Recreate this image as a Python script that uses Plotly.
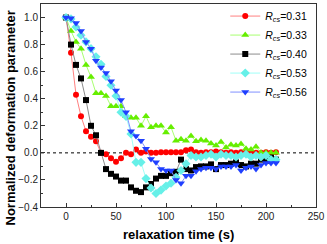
import plotly.graph_objects as go

time_s = list(range(0, 215, 5))

r031 = [1.0, 0.74, 0.43, 0.27, 0.16, 0.12, 0.085, 0.0, -0.01, -0.04, -0.065, -0.04, 0.0, -0.01,
        0.025, 0.0, 0.01, 0.0, 0.0, 0.005, 0.005, 0.005, 0.005, 0.005, 0.02, 0.025, 0.005, 0.0,
        0.005, 0.005, 0.01, 0.005, 0.0, 0.005, 0.0, 0.005, 0.0, 0.005, 0.0, 0.0, 0.005, 0.0, 0.005]
r033 = [1.0, 0.90, 0.82, 0.77, 0.65, 0.56, 0.44, 0.44, 0.42, 0.345, 0.345, 0.345, 0.27, 0.26,
        0.26, 0.20, 0.27, 0.19, 0.20, 0.20, 0.15, 0.19, 0.09, 0.10, 0.09, 0.125, 0.085, 0.095,
        0.09, 0.07, 0.055, 0.08, 0.04, 0.06, 0.055, 0.065, 0.03, 0.025, 0.045, 0.0, 0.0, 0.0, 0.0]
r040 = [1.0, 0.80, 0.65, 0.55, 0.39, 0.20, 0.13, 0.0, -0.12, -0.155, -0.175, -0.205, -0.205,
        -0.255, -0.28, -0.29, -0.255, -0.23, -0.19, -0.17, -0.17, -0.15, -0.14, -0.05, -0.12,
        -0.13, -0.105, -0.10, -0.10, -0.085, -0.12, -0.09, -0.09, -0.08, -0.07, -0.09, -0.10,
        -0.08, -0.08, -0.05, -0.06, -0.035, -0.05]
r053 = [1.0, 0.99, 0.93, 0.87, 0.82, 0.77, 0.71, 0.655, 0.565, 0.50, 0.42, 0.30, 0.27, 0.14,
        -0.07, -0.07, -0.19, -0.26, -0.30, -0.275, -0.245, -0.225, -0.18, -0.13, -0.08, -0.02,
        -0.03, -0.03, -0.02, -0.01, -0.03, -0.01, -0.02, -0.02, -0.03, -0.02, -0.01, -0.03,
        -0.02, -0.03, -0.02, -0.05, -0.05]
r056 = [1.0, 0.995, 0.96, 0.90, 0.82, 0.77, 0.68, 0.63, 0.59, 0.53, 0.46, 0.39, 0.30, 0.16,
        0.125, 0.09, 0.03, -0.045, -0.07, -0.12, -0.13, -0.13, -0.20, -0.225, -0.17, -0.17,
        -0.135, -0.12, -0.11, -0.11, -0.12, -0.10, -0.10, -0.10, -0.09, -0.13, -0.11, -0.10,
        -0.12, -0.09, -0.075, -0.075, -0.075]

series_labels = ["0.31", "0.33", "0.40", "0.53", "0.56"]
series_values = [r031, r033, r040, r053, r056]
marker_colors = ["#ff0000", "#66ee00", "#000000", "#66f0e8", "#1f3fff"]
line_colors = ["#ff8080", "#a8ff70", "#8c8c8c", "#a0fff8", "#8090ff"]
symbols = ["circle", "triangle-up", "square", "diamond", "triangle-down"]
sizes = [6, 7, 6, 7, 7]

x_ticks = [0, 50, 100, 150, 200, 250]
y_ticks = [-0.4, -0.2, 0.0, 0.2, 0.4, 0.6, 0.8, 1.0]

FONT = "Arial, Liberation Sans, sans-serif"

fig = go.Figure()
for lab, vals, mc, lc, sym, sz in zip(series_labels, series_values, marker_colors,
                                      line_colors, symbols, sizes):
    fig.add_trace(go.Scatter(
        x=time_s, y=vals, mode="lines+markers",
        name=f"<i>R</i><sub><i>cs</i></sub>={lab}",
        line=dict(color=lc, width=1),
        marker=dict(color=mc, symbol=sym, size=sz, line=dict(width=0)),
    ))

fig.add_shape(type="line", xref="paper", yref="y", x0=0, x1=1, y0=0, y1=0,
              line=dict(color="#000000", width=1, dash="dot"), layer="below")

axis_common = dict(
    showline=True, mirror=True, linecolor="#333333", linewidth=1,
    ticks="inside", ticklen=4, tickcolor="#333333", showgrid=False, zeroline=False,
    tickfont=dict(family=FONT, size=10, color="#222222"),
)
fig.update_xaxes(range=[-25, 250], tickvals=x_ticks,
                 minor=dict(ticks="inside", ticklen=2, dtick=25, tick0=0, tickcolor="#333333"),
                 **axis_common)
fig.update_yaxes(range=[-0.4, 1.1], tickvals=y_ticks, tickformat=".1f",
                 minor=dict(ticks="inside", ticklen=2, dtick=0.1, tick0=0, tickcolor="#333333"),
                 **axis_common)

fig.add_annotation(text="<b>relaxation time (s)</b>", xref="paper", yref="paper",
                   x=0.5, y=-0.135, yanchor="middle", xanchor="center", showarrow=False,
                   font=dict(family=FONT, size=13, color="#000000"))
fig.add_annotation(text="<b>Normalized deformation parameter</b>", xref="paper", yref="paper",
                   x=-0.112, y=0.437, xanchor="center", yanchor="middle", textangle=-90,
                   showarrow=False, font=dict(family=FONT, size=13, color="#000000"))

fig.update_layout(
    width=327, height=244,
    margin=dict(l=41, r=9, t=2, b=37),
    plot_bgcolor="white", paper_bgcolor="white",
    showlegend=True,
    legend=dict(x=0.67, y=1.012, xanchor="left", yanchor="top",
                bgcolor="rgba(0,0,0,0)", borderwidth=0,
                font=dict(family=FONT, size=10.5, color="#000000"),
                itemwidth=30, tracegroupgap=0),
)

fig.write_html("out.html", config={"displayModeBar": False},
               post_script="document.body.style.margin='0';")
